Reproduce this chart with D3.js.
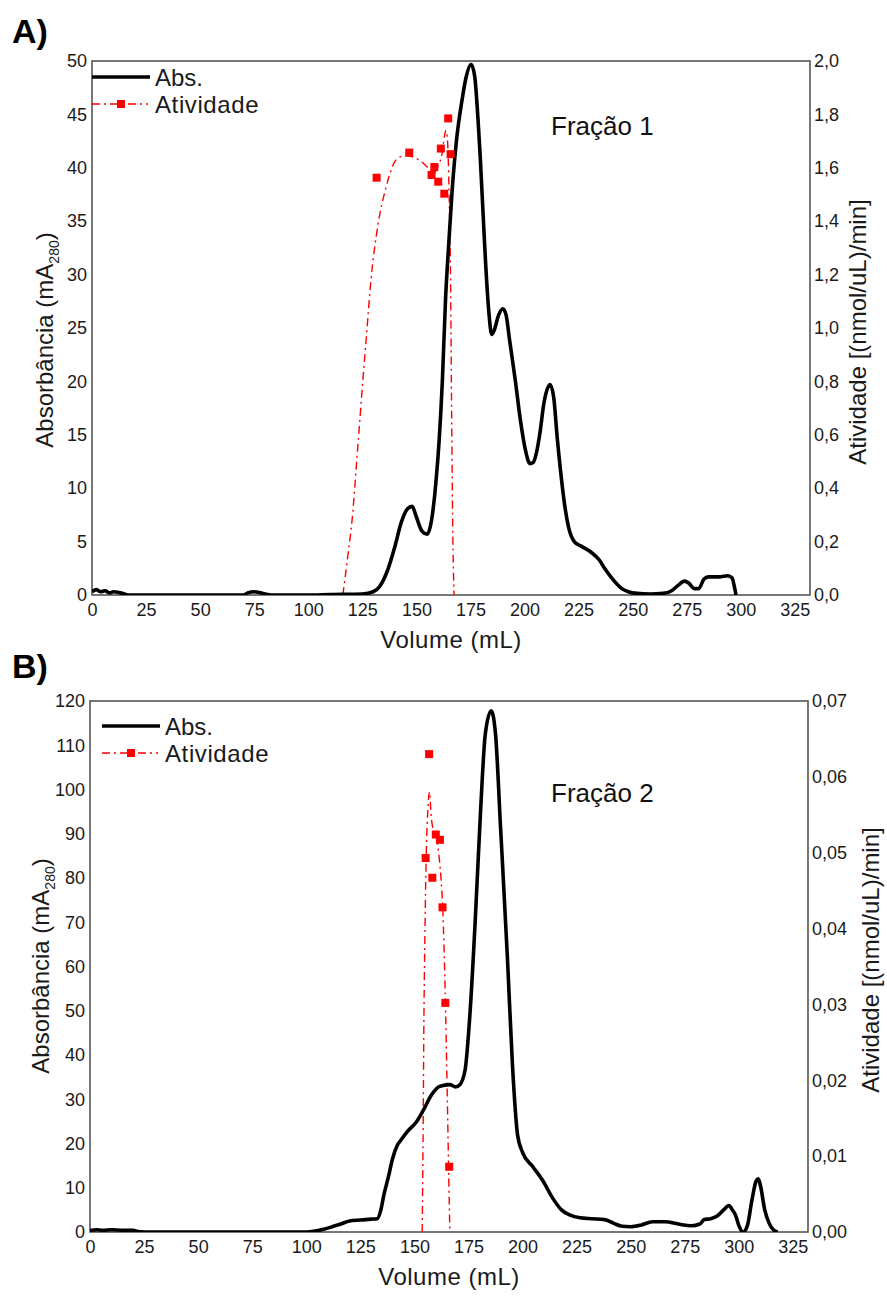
<!DOCTYPE html>
<html>
<head>
<meta charset="utf-8">
<script src="https://cdn.jsdelivr.net/npm/d3@7"></script>
<style>
  body { margin: 0; background: #fff; }
  svg { display: block; font-family: "Liberation Sans", Arial, sans-serif; }
</style>
</head>
<body>
<svg id="chart" width="887" height="1298"></svg>
<script>
// ---- Panel A data ----
const absVolA = [0, 2, 4, 6, 8, 10, 13, 15, 17, 70, 72, 75, 78, 80, 83, 100, 110, 125, 130, 133, 137, 140, 143, 146, 148,
  150, 152.5, 155, 157, 159, 160.5, 162, 163.5, 165, 166.5, 168.5, 171, 173, 175.3, 177, 178.5, 179.5, 181, 182, 183.5,
  184.8, 186, 188, 190, 191.5, 193, 195.8, 198, 200.5, 202.5, 204, 205.5, 207, 209, 211.8, 213.5, 215, 217, 218.5, 220.3,
  223, 226, 230.8, 234.5, 237, 241.5, 245, 248, 252, 258, 264, 268, 271, 274, 276, 278.5, 280.5, 283, 285, 290, 294,
  296, 297, 297.8];
const absValA = [0.3, 0.5, 0.3, 0.4, 0.2, 0.3, 0.2, 0.1, 0, 0, 0.2, 0.3, 0.2, 0.1, 0, 0, 0.05, 0.1, 0.3, 0.8, 2.5, 4.5, 6.8, 8.1, 8.3,
  7.3, 6.0, 5.7, 7.0, 10.5, 14.4, 20, 27.8, 33, 37.8, 42.5, 46.2, 48.5, 49.7, 48.5, 44.5, 41.1, 35, 31.1, 26.5,
  24.4, 24.8, 26.2, 26.8, 26.2, 24, 20, 16.5, 13.5, 12.3, 12.4, 13.3, 15, 18, 19.7, 18.5, 15, 11.0, 8.5, 6.4,
  5.0, 4.6, 4.0, 3.3, 2.5, 1.3, 0.6, 0.3, 0.15, 0.1, 0.15, 0.4, 0.9, 1.3, 1.1, 0.6, 0.6, 1.5, 1.7, 1.7, 1.8,
  1.6, 0.8, 0];
const actVolA = [131.6, 146.7, 157.0, 158.3, 160.1, 161.3, 162.9, 164.7, 165.8];
const actValA = [1.563, 1.657, 1.573, 1.603, 1.548, 1.672, 1.503, 1.785, 1.651];
const fitVolA = [116.0, 118.2, 120.6, 122.2, 123.7, 125.2, 126.7, 129.0, 132.1, 135.9, 139.8, 142.8, 145.1, 148.5,
  152.8, 156.6, 158.3, 159.5, 160.8, 162.0, 163.0, 163.6, 164.4, 165.1, 165.8, 166.3, 166.8, 167.4];
const fitValA = [0, 0.14, 0.31, 0.48, 0.64, 0.80, 0.95, 1.18, 1.38, 1.525, 1.62, 1.642, 1.645, 1.64,
  1.62, 1.59, 1.58, 1.6, 1.62, 1.66, 1.72, 1.74, 1.70, 1.51, 1.18, 0.67, 0.25, 0];

// ---- Panel B data ----
const absVolB = [0, 3, 6, 10, 15, 20, 22, 25, 100, 104, 108, 112, 116, 120, 125, 130, 132.8, 134.5, 135.9, 138, 139.8,
  142, 143.8, 146.9, 150.8, 153.9, 157.8, 161.7, 166.4, 169, 171, 173.4, 175.8, 178.1, 180.5, 182.8, 185.5, 187.5,
  189.8, 193, 195.3, 197.7, 200, 204.7, 209.4, 214, 218, 222, 226.6, 232, 238, 242, 246, 250, 255, 260, 266, 272,
  278, 282, 284, 287, 290, 293, 295.5, 297, 298.5, 300, 302, 304, 306, 308, 309, 310, 312, 314, 316, 318];
const absValB = [0.3, 0.5, 0.4, 0.5, 0.4, 0.4, 0.1, 0, 0, 0.2, 0.6, 1.2, 1.8, 2.5, 2.7, 2.9, 3.0, 5, 8.4, 12.5, 16.4,
  19.5, 20.8, 22.8, 24.8, 27.3, 30.9, 32.9, 33.3, 32.8, 33.3, 36.5, 50.1, 70.1, 94.2, 112.6, 117.8, 112.6,
  91.8, 62.1, 38.1, 22, 18, 14.8, 11.6, 7.6, 5, 3.8, 3.2, 3.0, 2.8, 2.0, 1.3, 1.2, 1.6, 2.3, 2.3, 1.8,
  1.4, 1.8, 2.8, 3.0, 3.6, 5.0, 6.0, 5.0, 3.8, 1.5, 0, 1.5, 7, 11.5, 12, 10.5, 5, 2, 0.5, 0];
const actVolB = [155.2, 156.8, 158.3, 159.9, 161.8, 163.0, 164.3, 166.1];
const actValB = [0.0493, 0.063, 0.0467, 0.0524, 0.0517, 0.0428, 0.0302, 0.0086];
const fitVolB = [153.6, 154.0, 154.4, 154.9, 155.5, 156.3, 157.0, 157.7, 158.7, 160.2, 161.2, 162.2, 163.2,
  164.2, 165.2, 165.9, 166.4];
const fitValB = [0, 0.012, 0.028, 0.040, 0.050, 0.056, 0.058, 0.055, 0.053, 0.052, 0.050, 0.047, 0.042,
  0.032, 0.018, 0.007, 0];

// ---- ticks / labels ----
const xTicks = [0, 25, 50, 75, 100, 125, 150, 175, 200, 225, 250, 275, 300, 325];
const leftTicksA = [0, 5, 10, 15, 20, 25, 30, 35, 40, 45, 50];
const rightTicksA = [0, 0.2, 0.4, 0.6, 0.8, 1.0, 1.2, 1.4, 1.6, 1.8, 2.0];
const leftTicksB = [0, 10, 20, 30, 40, 50, 60, 70, 80, 90, 100, 110, 120];
const rightTicksB = [0, 0.01, 0.02, 0.03, 0.04, 0.05, 0.06, 0.07];

const svg = d3.select('#chart');
svg.append('rect').attr('width', 887).attr('height', 1298).attr('fill', '#fff');

const RED = '#ff0000';
const DASH = '8,4,2,4';
const TXT = '#1a1a1a';

function comma(decimals) {
  return d => d3.format('.' + decimals + 'f')(d).replace('.', ',');
}

function drawPanel(p) {
  const x = d3.scaleLinear().domain([0, 332]).range([p.left, p.right]);
  const yL = d3.scaleLinear().domain([0, p.leftMax]).range([p.bottom, p.top]);
  const yR = d3.scaleLinear().domain([0, p.rightMax]).range([p.bottom, p.top]);
  const g = svg.append('g');

  // panel letter
  g.append('text').attr('x', 12).attr('y', p.letterY)
    .style('font-size', '34px').style('font-weight', 'bold').style('fill', '#000')
    .text(p.letter);

  // frame
  g.append('rect')
    .attr('x', p.left).attr('y', p.top)
    .attr('width', p.right - p.left).attr('height', p.bottom - p.top)
    .attr('fill', 'none').attr('stroke', '#555').attr('stroke-width', 1.6);

  // axes (no tick marks, only labels)
  const axX = g.append('g').attr('transform', `translate(0,${p.bottom})`)
    .call(d3.axisBottom(x).tickValues(xTicks).tickSize(0).tickPadding(8).tickFormat(d3.format('d')));
  const axL = g.append('g').attr('transform', `translate(${p.left},0)`)
    .call(d3.axisLeft(yL).tickValues(p.leftTicks).tickSize(0).tickPadding(5).tickFormat(d3.format('d')));
  const axR = g.append('g').attr('transform', `translate(${p.right},0)`)
    .call(d3.axisRight(yR).tickValues(p.rightTicks).tickSize(0).tickPadding(4).tickFormat(comma(p.rightDec)));
  [axX, axL, axR].forEach(a => {
    a.select('.domain').remove();
    a.selectAll('text').style('font-size', '18px').style('fill', TXT)
      .style('font-family', '"Liberation Sans", Arial, sans-serif');
  });

  // titles
  g.append('text').attr('x', (p.left + p.right) / 2).attr('y', p.bottom + 53)
    .attr('text-anchor', 'middle').style('font-size', '24px').style('letter-spacing', '0.5px').style('fill', TXT)
    .text('Volume (mL)');

  const lt = g.append('text')
    .attr('transform', `translate(${p.leftTitleX},${p.leftTitleY}) rotate(-90)`)
    .attr('text-anchor', 'middle').style('font-size', '24px').style('fill', TXT);
  lt.append('tspan').text('Absorbância (mA');
  lt.append('tspan').attr('dy', 6).style('font-size', '14px').text('280');
  lt.append('tspan').attr('dy', -6).text(')');

  g.append('text')
    .attr('transform', `translate(${p.right + p.rightTitleDx},${p.rightTitleY}) rotate(-90)`)
    .attr('text-anchor', 'middle').style('font-size', '24px').style('fill', TXT)
    .text('Atividade [(nmol/uL)/min]');

  g.append('text').attr('x', p.fracX).attr('y', p.fracY)
    .style('font-size', '26px').style('fill', '#111').text(p.frac);

  // clip to plot area
  const clipId = 'clip' + p.letter[0];
  g.append('clipPath').attr('id', clipId).append('rect')
    .attr('x', p.left).attr('y', p.top - 3).attr('width', p.right - p.left).attr('height', p.bottom - p.top + 3);
  const plot = g.append('g').attr('clip-path', `url(#${clipId})`);

  // activity fit line
  const fit = p.fitVol.map((v, i) => ({ v, a: p.fitVal[i] }));
  plot.append('path').datum(fit)
    .attr('fill', 'none').attr('stroke', RED).attr('stroke-width', 1.4).attr('stroke-dasharray', DASH)
    .attr('d', d3.line().x(d => x(d.v)).y(d => yR(d.a)).curve(d3.curveMonotoneX));

  // absorbance
  const abs = p.absVol.map((v, i) => ({ v, a: p.absVal[i] }));
  plot.append('path').datum(abs)
    .attr('fill', 'none').attr('stroke', '#000').attr('stroke-width', 3.6).attr('stroke-linejoin', 'round')
    .attr('d', d3.line().x(d => x(d.v)).y(d => yL(d.a)).curve(d3.curveMonotoneX));

  // activity points
  const pts = p.actVol.map((v, i) => ({ v, a: p.actVal[i] }));
  plot.selectAll('.pt').data(pts).enter().append('rect')
    .attr('x', d => x(d.v) - 4).attr('y', d => yR(d.a) - 4)
    .attr('width', 8).attr('height', 8).attr('fill', RED);

  // legend
  const lg = g.append('g');
  lg.append('line').attr('x1', p.legX).attr('x2', p.legX + 58).attr('y1', p.legY).attr('y2', p.legY)
    .attr('stroke', '#000').attr('stroke-width', 3.6);
  lg.append('text').attr('x', p.legX + 63).attr('y', p.legY + 9)
    .style('font-size', '24px').style('fill', TXT).text('Abs.');
  lg.append('line').attr('x1', p.legX).attr('x2', p.legX + 56).attr('y1', p.legY + 27).attr('y2', p.legY + 27)
    .attr('stroke', RED).attr('stroke-width', 1.4).attr('stroke-dasharray', DASH);
  lg.append('rect').attr('x', p.legX + 25).attr('y', p.legY + 23).attr('width', 8).attr('height', 8).attr('fill', RED);
  lg.append('text').attr('x', p.legX + 63).attr('y', p.legY + 36)
    .style('font-size', '24px').style('letter-spacing', '0.6px').style('fill', TXT).text('Atividade');
}

drawPanel({
  letter: 'A)', letterY: 43,
  left: 92, right: 810, top: 61, bottom: 595,
  leftMax: 50, rightMax: 2.0, leftTicks: leftTicksA, rightTicks: rightTicksA, rightDec: 1,
  absVol: absVolA, absVal: absValA, actVol: actVolA, actVal: actValA, fitVol: fitVolA, fitVal: fitValA,
  leftTitleX: 53, leftTitleY: 340, rightTitleY: 332, rightTitleDx: 56,
  frac: 'Fração 1', fracX: 551, fracY: 135,
  legX: 92, legY: 77
});

drawPanel({
  letter: 'B)', letterY: 678,
  left: 90, right: 808, top: 701, bottom: 1232,
  leftMax: 120, rightMax: 0.07, leftTicks: leftTicksB, rightTicks: rightTicksB, rightDec: 2,
  absVol: absVolB, absVal: absValB, actVol: actVolB, actVal: actValB, fitVol: fitVolB, fitVal: fitValB,
  leftTitleX: 49, leftTitleY: 966, rightTitleY: 960, rightTitleDx: 71,
  frac: 'Fração 2', fracX: 551, fracY: 802,
  legX: 102, legY: 726
});
</script>
</body>
</html>
